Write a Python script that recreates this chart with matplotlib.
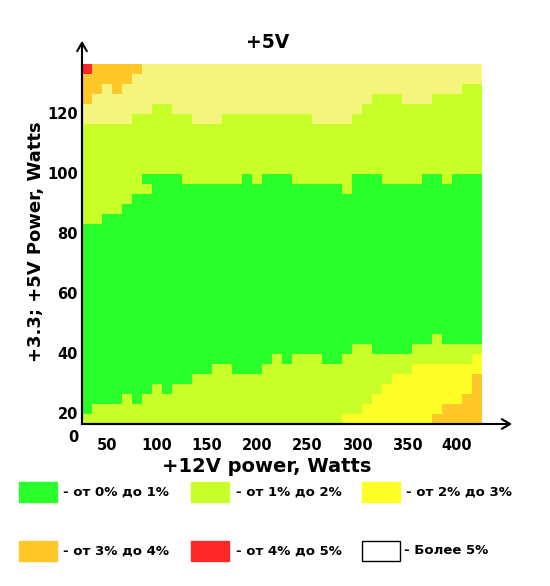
import numpy as np
import matplotlib.pyplot as plt
from matplotlib.colors import ListedColormap, BoundaryNorm
from matplotlib.patches import Rectangle

# category codes: 0 green, 1 yellow-green, 2 yellow, 3 orange, 4 red, 5 white, 6 pale (no data)
cat_colors = ['#2bff2b', '#c8ff28', '#ffff28', '#ffc828', '#ff2828', '#ffffff', '#f5f57d']
legend_labels = ['- от 0% до 1%', '- от 1% до 2%', '- от 2% до 3%',
                 '- от 3% до 4%', '- от 4% до 5%', '- Более 5%']

x_edges = np.arange(25, 426, 10)      # +12V power, 40 columns
y_top, y_bottom = 136.33, 16.33       # +3.3/+5V power range
n_rows = 36

# per column boundaries, row index counted from the top
top_orange = [4, 3, 2, 3, 2, 1] + [0] * 34
pale_rows = [6, 6, 6, 6, 6, 5, 5, 4, 4, 5, 5, 6, 6, 6, 5, 5, 5, 5, 5, 5,
             5, 5, 5, 6, 6, 6, 6, 5, 4, 3, 3, 3, 4, 4, 4, 3, 3, 3, 2, 2]
green_top = [16, 16, 15, 15, 14, 13, 11, 11, 11, 11, 12, 12, 12, 12, 12, 12, 11, 12, 11, 11,
             11, 12, 12, 12, 12, 12, 13, 11, 11, 11, 12, 12, 12, 12, 11, 11, 12, 11, 11, 11]
green_bottom = [35, 34, 34, 34, 33, 34, 33, 32, 33, 32, 32, 31, 31, 30, 30, 31, 31, 31, 30, 29,
                30, 29, 29, 29, 30, 30, 29, 28, 28, 29, 29, 29, 29, 28, 28, 27, 28, 28, 28, 28]
yellow_top = [36] * 26 + [35, 35, 34, 33, 32, 31, 31, 30, 30, 30, 30, 30, 30, 29]
orange_top = [36] * 35 + [35, 34, 34, 33, 31]
red_cells = [(0, 0)]
notch_cells = [(12, 6)]

grid = np.ones((n_rows, len(pale_rows)), dtype=int)
for c in range(len(pale_rows)):
    grid[:pale_rows[c], c] = 6
    grid[:top_orange[c], c] = 3
    grid[green_top[c]:green_bottom[c], c] = 0
    grid[yellow_top[c]:orange_top[c], c] = 2
    grid[orange_top[c]:, c] = 3
for r, c in red_cells:
    grid[r, c] = 4
for r, c in notch_cells:
    grid[r, c] = 1

W, H = 550, 586
fig = plt.figure(figsize=(W / 100, H / 100), dpi=100)
ax = fig.add_axes([82 / W, (H - 424) / H, 400 / W, 360 / H])

cmap = ListedColormap(cat_colors)
norm = BoundaryNorm(np.arange(-0.5, len(cat_colors) + 0.5, 1), cmap.N)
y_edges = np.linspace(y_top, y_bottom, n_rows + 1)
ax.pcolormesh(x_edges, y_edges, grid, cmap=cmap, norm=norm)

ax.set_xlim(25, 425)
ax.set_ylim(y_bottom, y_top)
ax.set_xticks(range(50, 401, 50))
ax.set_yticks(range(20, 121, 20))
ax.tick_params(axis='x', length=0, pad=10, labelsize=10.5)
ax.tick_params(axis='y', length=0, pad=3, labelsize=10.5)
for lab in ax.get_xticklabels() + ax.get_yticklabels():
    lab.set_fontweight('bold')
for s in ['top', 'right']:
    ax.spines[s].set_visible(False)
for s in ['left', 'bottom']:
    ax.spines[s].set_linewidth(1.5)

# arrows on the axes
arrow = dict(arrowstyle='->,head_length=0.6,head_width=0.35', lw=1.5, color='black')
ax.annotate('', xy=(0, (424 - 38) / 360), xytext=(0, 0), xycoords='axes fraction',
            arrowprops=arrow, annotation_clip=False)
ax.annotate('', xy=((515 - 82) / 400, 0), xytext=(0, 0), xycoords='axes fraction',
            arrowprops=arrow, annotation_clip=False)

fig.text(73 / W, 1 - 437 / H, '0', ha='center', va='center', fontsize=10.5, fontweight='bold')
fig.text(268 / W, 1 - 42 / H, '+5V', ha='center', va='center', fontsize=13.5, fontweight='bold')
fig.text(267 / W, 1 - 467 / H, '+12V power, Watts', ha='center', va='center',
         fontsize=14, fontweight='bold')
fig.text(36 / W, 1 - 242 / H, '+3.3; +5V Power, Watts', ha='center', va='center',
         rotation=90, fontsize=13, fontweight='bold')

# legend
box_x = [19, 191, 362]
text_x = [63, 236, 406]
row_y = [492, 551]
for i, lab in enumerate(legend_labels):
    r, k = divmod(i, 3)
    yc = row_y[r]
    edge = 'black' if i == 5 else cat_colors[i]
    fig.add_artist(Rectangle((box_x[k] / W, 1 - (yc + 10) / H), 38 / W, 20 / H,
                             transform=fig.transFigure, facecolor=cat_colors[i],
                             edgecolor=edge, lw=1))
    tx = text_x[k] - 2 if i == 5 else text_x[k]
    fig.text(tx / W, 1 - yc / H, lab, ha='left', va='center', fontsize=9.5, fontweight='bold')

fig.savefig('out.png', dpi=100)
